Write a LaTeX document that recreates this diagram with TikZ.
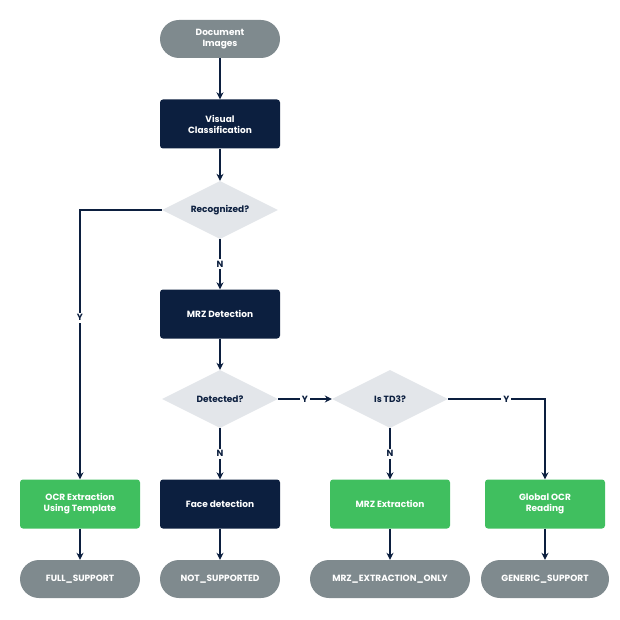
\documentclass[tikz,border=0pt]{standalone}
\usepackage{fontspec}
\setmainfont{Poppins}
\usetikzlibrary{shapes.geometric,arrows.meta}
\definecolor{navy}{HTML}{0C1F3F}
\definecolor{pill}{HTML}{7F8A8E}
\definecolor{leaf}{HTML}{40BF5F}
\definecolor{cond}{HTML}{E3E6EA}
\tikzset{
  base/.style={font=\fontsize{9}{11}\selectfont\bfseries, align=center, text=white, inner sep=1pt},
  term/.style={base, rounded corners=19pt, fill=pill, minimum width=120pt, minimum height=38pt},
  task/.style={base, rounded corners=3pt, fill=navy, minimum width=120pt, minimum height=49pt},
  leafbox/.style={base, rounded corners=3pt, fill=leaf, minimum width=120pt, minimum height=49pt},
  test/.style={base, diamond, aspect=2, fill=cond, text=navy, minimum width=116pt, minimum height=58pt, inner sep=0pt},
  flow/.style={draw=navy, line width=1.3pt, -{Stealth[length=7pt,width=7pt]}},
  tag/.style={font=\fontsize{9}{11}\selectfont\bfseries, text=navy, fill=white, inner sep=2pt}
}
\begin{document}
\begin{tikzpicture}[x=1pt,y=-1pt]
\useasboundingbox (0,0) rectangle (620,620);
% main column
\node[term] (docs) at (220,39) {Document\\Images};
\node[task] (visual) at (220,124) {Visual\\Classification};
\node[test] (recog) at (220,210) {Recognized?};
\node[task] (mrzdet) at (220,314) {MRZ Detection};
\node[test] (detected) at (220,399) {Detected?};
\node[test] (td3) at (390,399) {Is TD3?};
% results
\node[leafbox] (ocrtpl) at (80,504) {OCR Extraction\\Using Template};
\node[task] (face) at (220,504) {Face detection};
\node[leafbox] (mrzext) at (390,504) {MRZ Extraction};
\node[leafbox] (global) at (545,504) {Global OCR\\Reading};
\node[term] (full) at (80,579) {FULL\_SUPPORT};
\node[term] (notsup) at (220,579) {NOT\_SUPPORTED};
\node[term, minimum width=160pt] (mrzonly) at (390,579) {MRZ\_EXTRACTION\_ONLY};
\node[term, minimum width=128pt] (generic) at (545,579) {GENERIC\_SUPPORT};
% connectors
\draw[flow] (docs) -- (visual);
\draw[flow] (visual) -- (recog);
\draw[flow] (recog.west) -| node[tag, pos=0.7] {Y} (ocrtpl.north);
\draw[flow] (recog) -- node[tag] {N} (mrzdet);
\draw[flow] (mrzdet) -- (detected);
\draw[flow] (detected.east) -- node[tag] {Y} (td3.west);
\draw[flow] (detected) -- node[tag] {N} (face);
\draw[flow] (td3) -- node[tag] {N} (mrzext);
\draw[flow] (td3.east) -| node[tag, pos=0.3] {Y} (global.north);
\draw[flow] (ocrtpl) -- (full);
\draw[flow] (face) -- (notsup);
\draw[flow] (mrzext) -- (mrzonly);
\draw[flow] (global) -- (generic);
\end{tikzpicture}
\end{document}
